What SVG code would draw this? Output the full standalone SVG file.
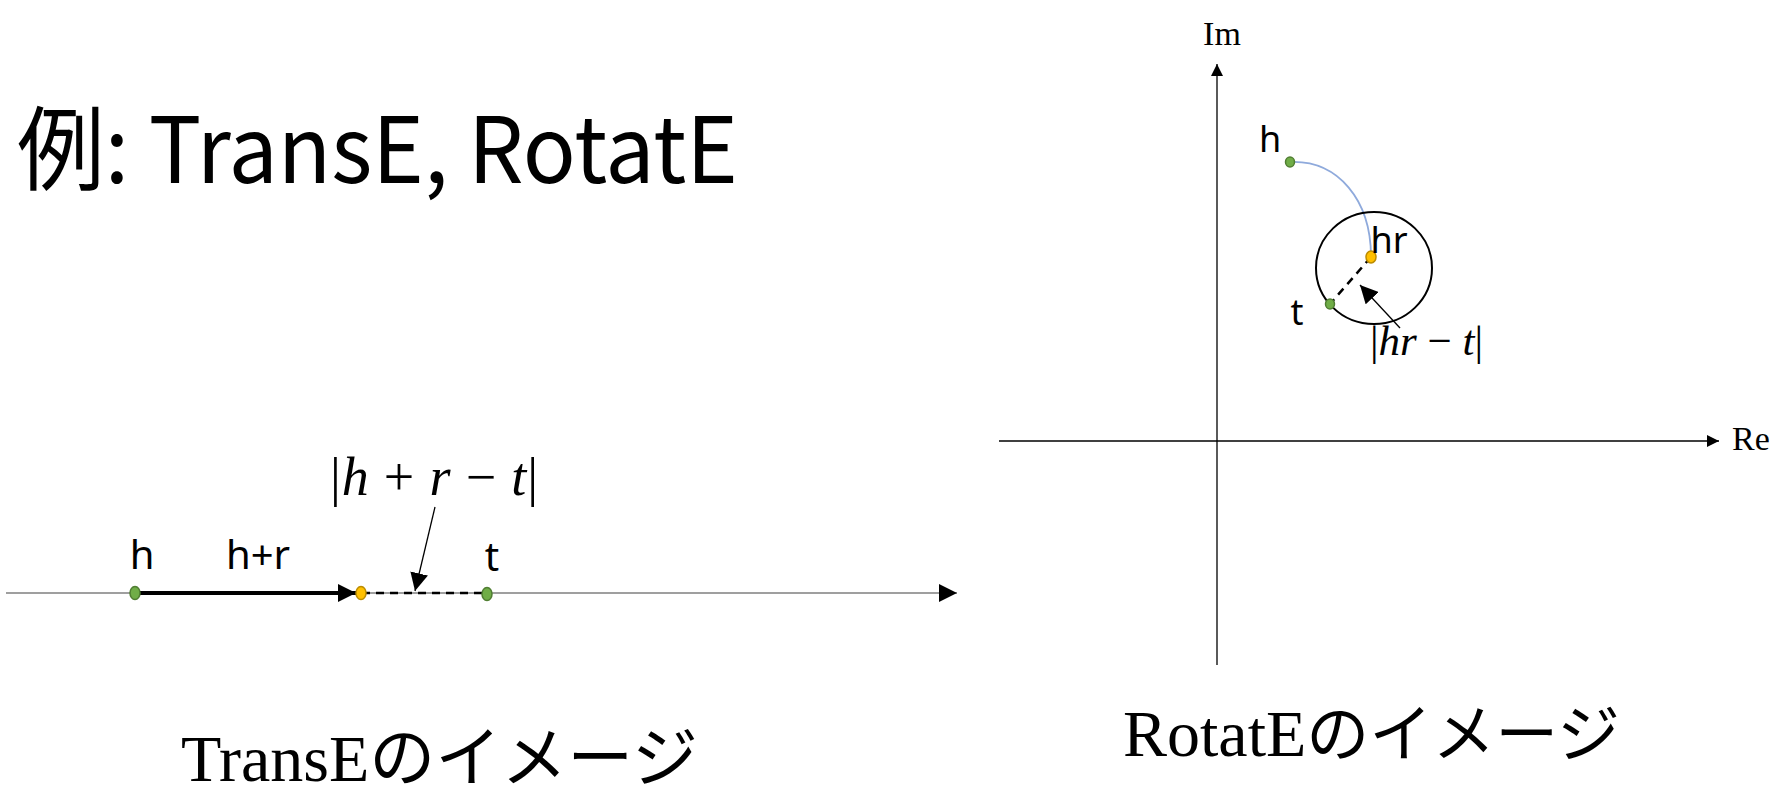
<svg xmlns="http://www.w3.org/2000/svg" width="1774" height="792" viewBox="0 0 1774 792">
<style>
.sans{font-family:"Noto Sans","Liberation Sans",sans-serif;fill:#000}
.cjk{font-family:"Noto Sans CJK JP",sans-serif;fill:#000}
.serif{font-family:"Liberation Serif","Noto Sans CJK JP",serif;fill:#000}
.math{font-family:"Liberation Serif",serif;fill:#000}
.axis{stroke:#000;stroke-width:1.3;fill:none}
.tline{stroke:#7f7f7f;stroke-width:1.6;fill:none}
.green{fill:#70ad47;stroke:#507e32;stroke-width:1.5}
.orange{fill:#ffc000;stroke:#bc8c00;stroke-width:1.5}
.dash{stroke:#000;stroke-width:2.5;stroke-dasharray:8 6;fill:none}
.ptr{stroke:#000;stroke-width:1.3;fill:none}
</style>
<defs>
<marker id="ah" viewBox="0 0 10 10" refX="10" refY="5" markerWidth="12" markerHeight="12" markerUnits="userSpaceOnUse" orient="auto"><path d="M0,0 L10,5 L0,10 z" fill="#000"/></marker>
<marker id="ahb" viewBox="0 0 10 10" refX="10" refY="5" markerWidth="18" markerHeight="18" markerUnits="userSpaceOnUse" orient="auto"><path d="M0,0 L10,5 L0,10 z" fill="#000"/></marker>
</defs>
<rect width="1774" height="792" fill="#fff"/>

<g id="title">
<text x="17" y="183" font-size="92" class="cjk" textLength="721" lengthAdjust="spacingAndGlyphs">例: TransE, RotatE</text>
</g>

<g id="connectors">
<line class="tline" x1="6" y1="593" x2="957" y2="593" marker-end="url(#ahb)"/>
<line x1="135" y1="593" x2="356" y2="593" stroke="#000" stroke-width="4" marker-end="url(#ahb)"/>
<line class="dash" x1="362" y1="593" x2="487" y2="593"/>
<line class="ptr" x1="435" y1="507" x2="415" y2="591" marker-end="url(#ahb)"/>
<line class="axis" x1="1217" y1="665" x2="1217" y2="64" marker-end="url(#ah)"/>
<line class="axis" x1="999" y1="441" x2="1719" y2="441" marker-end="url(#ah)"/>
<path d="M1290,162 C1338,160 1371,200 1371,257" stroke="#8faadc" stroke-width="1.8" fill="none"/>
<line class="dash" x1="1371" y1="257" x2="1330" y2="304" stroke-dasharray="7 5"/>
<line class="ptr" x1="1400" y1="328" x2="1360" y2="285" marker-end="url(#ahb)"/>
</g>

<g id="transe">
<ellipse class="green" cx="135" cy="593" rx="5" ry="6.5"/>
<ellipse class="orange" cx="361" cy="593" rx="5" ry="6.5"/>
<ellipse class="green" cx="487" cy="594" rx="5" ry="6.5"/>
<text x="142" y="569" font-size="40" class="sans" text-anchor="middle">h</text>
<text x="258" y="569" font-size="40" class="sans" text-anchor="middle">h+r</text>
<text x="492" y="571" font-size="40" class="sans" text-anchor="middle">t</text>
<text x="330" y="495" font-size="54" class="math" textLength="208" lengthAdjust="spacing">|<tspan font-style="italic">h</tspan> + <tspan font-style="italic">r</tspan> − <tspan font-style="italic">t</tspan>|</text>
</g>

<g id="rotate">
<ellipse cx="1374" cy="268" rx="58" ry="56" fill="none" stroke="#000" stroke-width="2"/>
<ellipse class="green" cx="1290" cy="162" rx="4.5" ry="5"/>
<ellipse class="orange" cx="1371" cy="257" rx="5" ry="6"/>
<ellipse class="green" cx="1330" cy="304" rx="4.5" ry="5"/>
<text x="1270" y="152" font-size="36" class="sans" text-anchor="middle">h</text>
<text x="1389" y="253" font-size="36" class="sans" text-anchor="middle">hr</text>
<text x="1297" y="325" font-size="36" class="sans" text-anchor="middle">t</text>
<text x="1370" y="355" font-size="43" class="math" textLength="113" lengthAdjust="spacing">|<tspan font-style="italic">hr</tspan> − <tspan font-style="italic">t</tspan>|</text>
<text x="1222" y="45" font-size="34" class="math" text-anchor="middle">Im</text>
<text x="1751" y="450" font-size="34" class="math" text-anchor="middle">Re</text>
</g>

<g id="captions">
<text x="181" y="781" font-size="66" class="serif">TransEのイメージ</text>
<text x="1123" y="756" font-size="66" class="serif">RotatE<tspan font-size="63">のイメージ</tspan></text>
</g>
</svg>
